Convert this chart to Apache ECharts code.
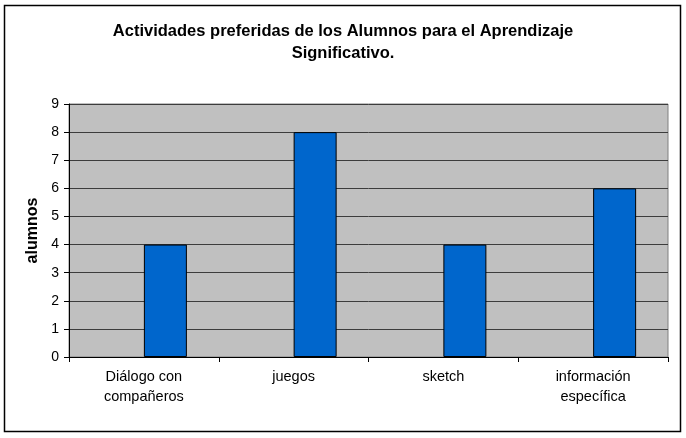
<!DOCTYPE html>
<html>
<head>
  <meta charset="utf-8">
  <title>Actividades preferidas</title>
  <script src="https://cdn.jsdelivr.net/npm/echarts@6/dist/echarts.min.js"></script>
  <style>
    html, body { margin: 0; padding: 0; background: #fff; }
    #main { width: 686px; height: 438px; }
  </style>
</head>
<body>
  <div id="main"></div>
  <script type="text/javascript">
    // datos
    var categorias = ['Diálogo con\ncompañeros', 'juegos', 'sketch', 'información\nespecífica'];
    var alumnos = [4, 8, 4, 6];
    var vacio = ['-', '-', '-', '-']; // serie vacía (desplaza las barras como en Excel)

    var myChart = echarts.init(document.getElementById('main'));

    var option = {
      animation: false,
      textStyle: { fontFamily: 'Liberation Sans, Arial, sans-serif' },
      graphic: [{
        type: 'rect',
        shape: { x: 4.5, y: 5.5, width: 676, height: 426 },
        style: { fill: 'none', stroke: '#000', lineWidth: 1.5 },
        silent: true
      }],
      title: {
        text: 'Actividades preferidas de los Alumnos para el Aprendizaje\nSignificativo.',
        left: 'center',
        top: 15,
        textStyle: {
          fontSize: 16.5,
          fontWeight: 'bold',
          color: '#000',
          lineHeight: 22,
          fontFamily: 'Liberation Sans, Arial, sans-serif'
        }
      },
      grid: {
        left: 69,
        right: 18,
        top: 104,
        bottom: 81,
        show: true,
        backgroundColor: '#c0c0c0',
        borderColor: '#808080',
        borderWidth: 1
      },
      xAxis: {
        type: 'category',
        data: categorias,
        axisLine: { lineStyle: { color: '#000', width: 1 } },
        axisTick: { show: true, length: 5, lineStyle: { color: '#000' } },
        axisLabel: {
          color: '#000',
          fontSize: 14.5,
          lineHeight: 20,
          margin: 10,
          interval: 0
        },
        splitLine: { show: false }
      },
      yAxis: {
        type: 'value',
        min: 0,
        max: 9,
        interval: 1,
        name: 'alumnos',
        nameLocation: 'middle',
        nameGap: 27,
        nameRotate: 90,
        nameTextStyle: { fontSize: 16, fontWeight: 'bold', color: '#000' },
        axisLine: { show: true, lineStyle: { color: '#000', width: 1 } },
        axisTick: { show: true, length: 5, lineStyle: { color: '#000' } },
        axisLabel: { color: '#000', fontSize: 14, margin: 10 },
        splitLine: { show: true, lineStyle: { color: '#3c3c3c', width: 1 } }
      },
      series: [{
        name: 'vacío',
        type: 'bar',
        data: vacio,
        barWidth: 43,
        barGap: '0%'
      }, {
        name: 'alumnos',
        type: 'bar',
        data: alumnos,
        barWidth: 43,
        barGap: '0%',
        itemStyle: {
          color: '#0066cc',
          borderColor: '#000',
          borderWidth: 1
        }
      }]
    };

    myChart.setOption(option);
  </script>
</body>
</html>
